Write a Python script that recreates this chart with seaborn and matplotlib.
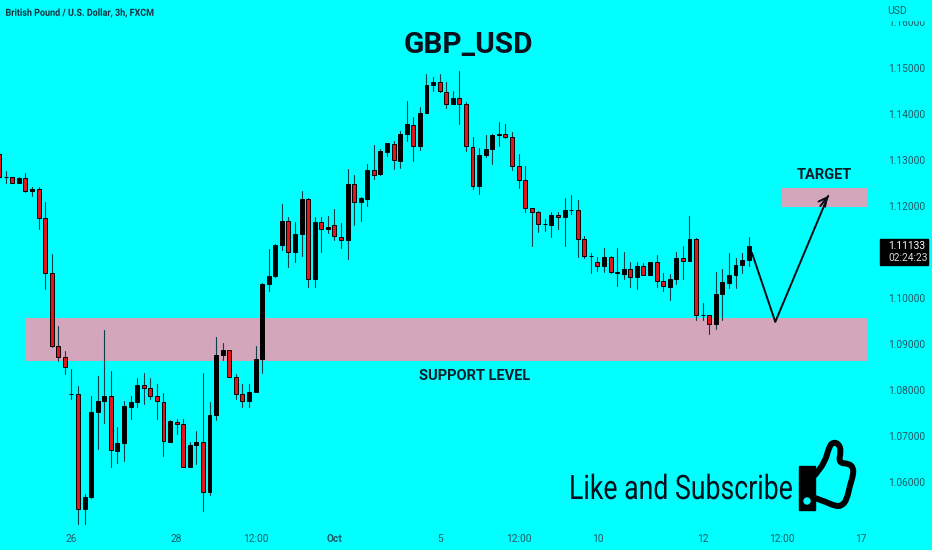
import pandas as pd
import matplotlib
matplotlib.use("Agg")
import matplotlib.pyplot as plt
from matplotlib.patches import PathPatch, Circle, Rectangle
from matplotlib.patheffects import AbstractPathEffect
from matplotlib.path import Path
from matplotlib.transforms import Affine2D
import seaborn as sns

# GBP/USD 3h candles
opens = [1.1313,1.1262,1.1262,1.1251,1.1260,1.1233,1.1238,1.1173,1.1054,1.0896,1.0871,1.0791,1.0791,1.0541,1.0567,1.0753,1.0776,1.0786,1.0668,1.0684,
         1.0764,1.0773,1.0810,1.0804,1.0787,1.0773,1.0688,1.0731,1.0725,1.0633,1.0680,1.0688,1.0579,1.0746,1.0877,1.0886,1.0828,1.0791,1.0775,1.0796,
         1.0867,1.1030,1.1048,1.1115,1.1168,1.1099,1.1140,1.1215,1.1041,1.1166,1.1149,1.1158,1.1133,1.1126,1.1247,1.1208,1.1216,1.1278,1.1269,1.1318,
         1.1335,1.1298,1.1357,1.1377,1.1330,1.1402,1.1462,1.1469,1.1448,1.1422,1.1434,1.1421,1.1329,1.1244,1.1311,1.1324,1.1354,1.1357,1.1349,1.1286,
         1.1256,1.1195,1.1187,1.1160,1.1159,1.1181,1.1175,1.1192,1.1192,1.1128,1.1091,1.1079,1.1070,1.1090,1.1054,1.1053,1.1064,1.1046,1.1069,1.1051,
         1.1078,1.1036,1.1024,1.1042,1.1088,1.1080,1.1128,1.0962,1.0962,1.0943,1.1008,1.1033,1.1050,1.1071,1.1083]
highs = [1.1322,1.1275,1.1264,1.1262,1.1272,1.1242,1.1242,1.1208,1.1096,1.0939,1.0885,1.0845,1.0809,1.0574,1.0787,1.0831,1.0930,1.0842,1.0719,1.0777,
         1.0787,1.0825,1.0836,1.0825,1.0814,1.0793,1.0735,1.0738,1.0738,1.0686,1.0711,1.0838,1.0773,1.0915,1.0903,1.0888,1.0835,1.0814,1.0814,1.0896,
         1.1032,1.1106,1.1117,1.1204,1.1175,1.1166,1.1233,1.1218,1.1175,1.1175,1.1178,1.1193,1.1162,1.1280,1.1267,1.1219,1.1291,1.1333,1.1324,1.1338,
         1.1341,1.1364,1.1428,1.1393,1.1416,1.1488,1.1480,1.1486,1.1470,1.1449,1.1493,1.1427,1.1351,1.1325,1.1354,1.1356,1.1382,1.1378,1.1360,1.1314,
         1.1286,1.1196,1.1190,1.1171,1.1186,1.1186,1.1217,1.1223,1.1212,1.1135,1.1097,1.1090,1.1108,1.1092,1.1108,1.1099,1.1079,1.1079,1.1075,1.1078,
         1.1093,1.1054,1.1052,1.1100,1.1112,1.1178,1.1130,1.0990,1.0963,1.1057,1.1063,1.1097,1.1086,1.1097,1.1132]
lows = [1.1258,1.1251,1.1249,1.1249,1.1231,1.1222,1.1149,1.1019,1.0894,1.0862,1.0834,1.0780,1.0503,1.0503,1.0566,1.0672,1.0728,1.0632,1.0641,1.0646,
        1.0738,1.0763,1.0770,1.0780,1.0736,1.0657,1.0686,1.0705,1.0632,1.0632,1.0640,1.0538,1.0571,1.0734,1.0865,1.0828,1.0781,1.0762,1.0764,1.0796,
        1.0836,1.1015,1.1045,1.1104,1.1068,1.1079,1.1092,1.1023,1.1023,1.1099,1.1141,1.1126,1.1109,1.1084,1.1159,1.1167,1.1199,1.1258,1.1267,1.1309,
        1.1280,1.1283,1.1341,1.1298,1.1322,1.1402,1.1449,1.1448,1.1412,1.1421,1.1378,1.1320,1.1238,1.1226,1.1306,1.1292,1.1331,1.1347,1.1278,1.1240,
        1.1188,1.1112,1.1143,1.1146,1.1133,1.1151,1.1114,1.1182,1.1090,1.1086,1.1054,1.1059,1.1057,1.1054,1.1027,1.1041,1.1024,1.1019,1.1050,1.1050,
        1.1023,1.1015,1.0996,1.1030,1.1042,1.1080,1.0952,1.0952,1.0922,1.0933,1.0953,1.1022,1.1022,1.1054,1.1070]
closes = [1.1262,1.1263,1.1251,1.1261,1.1233,1.1238,1.1174,1.1055,1.0896,1.0871,1.0849,1.0791,1.0541,1.0567,1.0752,1.0776,1.0786,1.0669,1.0684,1.0765,
          1.0773,1.0810,1.0804,1.0788,1.0775,1.0689,1.0732,1.0725,1.0633,1.0680,1.0688,1.0579,1.0746,1.0877,1.0886,1.0829,1.0791,1.0775,1.0796,1.0867,
          1.1030,1.1048,1.1115,1.1168,1.1099,1.1140,1.1215,1.1041,1.1166,1.1149,1.1154,1.1134,1.1127,1.1247,1.1208,1.1217,1.1278,1.1268,1.1319,1.1336,
          1.1299,1.1357,1.1378,1.1330,1.1402,1.1462,1.1470,1.1449,1.1422,1.1434,1.1421,1.1330,1.1244,1.1311,1.1324,1.1354,1.1357,1.1349,1.1287,1.1257,
          1.1195,1.1187,1.1160,1.1160,1.1181,1.1175,1.1191,1.1192,1.1129,1.1092,1.1091,1.1070,1.1090,1.1056,1.1056,1.1064,1.1046,1.1069,1.1051,1.1078,
          1.1037,1.1025,1.1042,1.1088,1.1081,1.1128,1.0962,1.0962,1.0943,1.1008,1.1034,1.1050,1.1071,1.1083,1.11133]

# axis ticks
price_ticks = [1.16, 1.15, 1.14, 1.13, 1.12, 1.10, 1.09, 1.08, 1.07, 1.06]
time_ticks = [11, 27, 39, 51, 67, 79, 91, 107, 119, 131]
time_labels = ["26", "28", "12:00", "Oct", "5", "12:00", "10", "12", "12:00", "17"]

# drawn zones and projected path
support_zone = (1.0863, 1.0957)
support_span = (3.94, 132)
target_zone = (1.1198, 1.1239)
target_span = (119.07, 132)
path_x = [114.5, 118.05, 126.1]
path_y = [1.1098, 1.0948, 1.1222]

BG = "#00ffff"
ZONE = "#d3a6bc"
RED = "#e3141c"
TICK = "#1f5a66"
W, H = 932, 550


def px(x, y):
    # picture pixels to figure fraction
    return x / W, 1 - y / H


class Squeeze(AbstractPathEffect):
    # narrows text sideways, no condensed font is installed
    def __init__(self, sx):
        super().__init__()
        self.sx = sx

    def draw_path(self, renderer, gc, tpath, affine, rgbFace=None):
        renderer.draw_path(gc, tpath, Affine2D().scale(self.sx, 1) + affine, rgbFace)


sns.set_theme(style="white", rc={"axes.facecolor": BG, "figure.facecolor": BG})
plt.rcParams["font.family"] = ["Roboto", "DejaVu Sans"]

fig = plt.figure(figsize=(W / 100, H / 100), dpi=100)
ax = fig.add_axes([0, 1 - 525 / H, 878 / W, 525 / H])

df = pd.DataFrame({"candle": range(len(opens)), "open": opens, "high": highs, "low": lows, "close": closes})
df["base"] = df[["open", "close"]].min(axis=1)
df["body"] = (df["open"] - df["close"]).abs()

# zones under the candles
for zone, span in [(support_zone, support_span), (target_zone, target_span)]:
    ax.fill_between(span, zone[0], zone[1], color=ZONE, lw=0, zorder=1)

# wicks
wicks = df.melt(id_vars="candle", value_vars=["high", "low"], value_name="price")
sns.lineplot(data=wicks, x="candle", y="price", units="candle", estimator=None, color="#0f4048",
             lw=0.8, ax=ax, zorder=2)

# bodies, falling candles red and rising candles black
for part, colour in [(df[df["open"] > df["close"]], RED), (df[df["open"] <= df["close"]], "black")]:
    sns.barplot(data=part, x="candle", y="body", bottom=part["base"].values, native_scale=True, width=0.6,
                color=colour, saturation=1, edgecolor="black", linewidth=0.7, errorbar=None, ax=ax, zorder=3)

# projected path with arrow head
sns.lineplot(x=path_x, y=path_y, sort=False, estimator=None, color="#050a14", lw=1.4, ax=ax, zorder=4)
ax.annotate("", xy=(path_x[-1], path_y[-1]), xytext=(path_x[-1] - 1.2, path_y[-1] - 0.0022),
            arrowprops=dict(arrowstyle="->", color="#050a14", lw=1.4, mutation_scale=15, shrinkA=0, shrinkB=0),
            zorder=4)

ax.set_xlim(0.137, 133.67)
ax.set_ylim(1.05065, 1.16478)
ax.set_xlabel("")
ax.set_ylabel("")
sns.despine(ax=ax, left=True, bottom=True, right=True, top=True)
ax.yaxis.tick_right()
ax.set_yticks(price_ticks)
ax.set_yticklabels([f"{p:.5f}" for p in price_ticks])
ax.set_xticks(time_ticks)
ax.set_xticklabels(time_labels)
ax.tick_params(axis="y", length=0, pad=7, labelsize=7.3, labelcolor=TICK)
ax.tick_params(axis="x", length=0, pad=6.5, labelsize=7.3, labelcolor=TICK)
for lab in ax.get_xticklabels():
    if lab.get_text() == "Oct":
        lab.set_fontweight("bold")

# header and the top of the clipped scale label
fig.add_artist(Rectangle(px(880, 20), 50 / W, 20 / H, color=BG, zorder=5))
fig.text(*px(5.5, 13), "British Pound / U.S. Dollar, 3h, FXCM", fontsize=7.1, color="#17323f",
         fontweight="bold", va="center", path_effects=[Squeeze(0.91)])
fig.text(*px(887, 11), "USD", fontsize=7.5, color=TICK, va="center", zorder=6)
fig.text(*px(468, 45), "GBP_USD", fontsize=21.5, fontweight="bold", color="#08121c", ha="center", va="center")
fig.text(*px(824.5, 175), "TARGET", fontsize=10.5, fontweight="bold", color="#08202a", ha="center", va="center")
fig.text(*px(475, 376), "SUPPORT LEVEL", fontsize=10.5, fontweight="bold", color="#08202a", ha="center", va="center")
fig.text(*px(569, 499), "Like and Subscribe", fontsize=24.3, color="#04101a", va="baseline",
         path_effects=[Squeeze(0.79)])

# last price tag
fig.add_artist(Rectangle(px(880, 265), 48 / W, 26 / H, color="black", zorder=5))
fig.text(*px(888, 246), "1.11133", fontsize=7.3, color="white", va="center", zorder=6)
fig.text(*px(888, 258), "02:24:23", fontsize=7.3, color="#d8d8d8", va="center", zorder=6)

# thumbs up sign, corners smoothed with quadratic segments
pts = [(815, 475), (825, 462), (829, 447), (833, 442), (839, 444), (841, 451), (838.5, 463), (849, 463.5),
       (853.5, 468), (853, 476), (850, 485), (847, 499), (842, 506), (835, 506), (826, 502), (815, 498)]
mids = [((a[0] + b[0]) / 2, (a[1] + b[1]) / 2) for a, b in zip(pts, pts[1:])]
verts = [pts[0], mids[0]]
codes = [Path.MOVETO, Path.LINETO]
for ctrl, end in zip(pts[1:-1], mids[1:]):
    verts += [ctrl, end]
    codes += [Path.CURVE3, Path.CURVE3]
verts.append(pts[-1])
codes.append(Path.LINETO)
thumb = Path([px(*v) for v in verts], codes)
fig.add_artist(PathPatch(thumb, transform=fig.transFigure, facecolor=BG, edgecolor="black", lw=4.3,
                         joinstyle="round", capstyle="round", zorder=5))
fig.add_artist(Rectangle(px(799, 510), 15.5 / W, 44 / H, color="black", zorder=6))
fig.add_artist(Circle((807, H - 501), 3, transform=None, color=BG, zorder=7))

fig.savefig("out.png", dpi=100)
